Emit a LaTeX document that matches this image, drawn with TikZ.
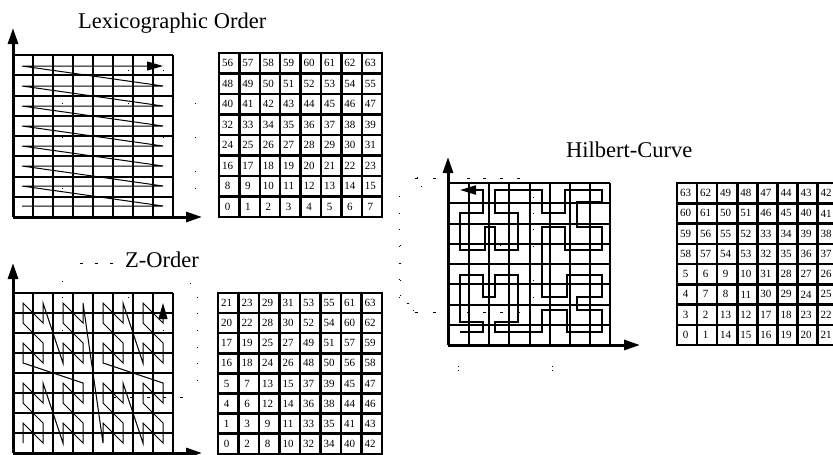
\documentclass[tikz,border=0pt]{standalone}
\usepackage{fontspec}
\setmainfont{Liberation Serif}
\usetikzlibrary{arrows.meta}

% table of numbered cells: name, x0, y0, dx, dy, rows (top to bottom)
\newcommand{\drawnumtable}[6]{%
  \foreach \vv in {0,...,8} {\draw[tabln] ({#2+#4*\vv},#3) -- ({#2+#4*\vv},{#3+8*#5});}
  \foreach \hh in {0,...,8} {\draw[tabln] (#2,{#3+#5*\hh}) -- ({#2+8*#4},{#3+#5*\hh});}
  \foreach \rowvals [count=\ri from 0] in {#6} {
    \foreach \cellv [count=\ci from 0] in \rowvals {
      \node[num] (#1-\ri-\ci) at ({#2+#4*\ci+8.5},{#3+#5*\ri+#5/2}) {\cellv};
    }
  }
}

\begin{document}
\begin{tikzpicture}[x=1pt,y=-1pt,
  gridln/.style={line width=2pt},
  axis/.style={line width=3pt,-{Triangle[length=16pt,width=10pt]}},
  tabln/.style={line width=2.5pt,line cap=rect},
  curve/.style={line width=1pt},
  hcurve/.style={line width=2pt},
  tip/.style={-{Triangle[length=16pt,width=9pt]}},
  num/.style={font=\fontsize{11}{11}\selectfont,inner sep=0pt},
  title/.style={font=\fontsize{22.5}{24}\selectfont,inner sep=0pt,anchor=base west},
  dotmark/.style={fill=black}]
\useasboundingbox (0,0) rectangle (833,455);
\clip (0,0) rectangle (833,455);

% ---------------- Lexicographic order ----------------
\node[title] (lextitle) at (78,28) {Lexicographic Order};
\foreach \i in {1,...,8} {\draw[gridln] ({13+20*\i},55) -- ({13+20*\i},217);}
\foreach \j in {0,...,7} {\draw[gridln] (13,{55+20.25*\j}) -- (173,{55+20.25*\j});}
\coordinate (lex-o) at (13,217);
\coordinate (lex-y) at (13,28);
\coordinate (lex-x) at (202,217);
\draw[axis] (lex-o) -- (lex-y);
\draw[axis] (lex-o) -- (lex-x);
\draw[curve,tip] (22,206)
  foreach \i in {1,...,7} { -- (163,{206-20*(\i-1)}) -- (22,{206-20*\i}) } -- (163,66);

\drawnumtable{lex}{219}{53}{20.4}{20.5}{%
  {56,57,58,59,60,61,62,63},{48,49,50,51,52,53,54,55},
  {40,41,42,43,44,45,46,47},{32,33,34,35,36,37,38,39},
  {24,25,26,27,28,29,30,31},{16,17,18,19,20,21,22,23},
  {8,9,10,11,12,13,14,15},{0,1,2,3,4,5,6,7}}

% ---------------- Z-order ----------------
\node[title] (ztitle) at (125,267) {Z-Order};
\foreach \i in {1,...,8} {\draw[gridln] ({13+20*\i},293) -- ({13+20*\i},453);}
\foreach \j in {0,...,7} {\draw[gridln] (13,{293+20*\j}) -- (173,{293+20*\j});}
\coordinate (z-o) at (13,453);
\coordinate (z-y) at (13,263);
\coordinate (z-x) at (202,453);
\draw[axis] (z-o) -- (z-y);
\draw[axis] (z-o) -- (z-x);
\draw[curve,tip] (23,443)
  foreach \a in {0,...,3} { foreach \b in {0,...,3} { foreach \d in {0,...,3} {
    -- ({23+20*(4*floor(\a/2)+2*floor(\b/2)+floor(\d/2))},
        {443-20*(4*mod(\a,2)+2*mod(\b,2)+mod(\d,2))}) } } };

\drawnumtable{zt}{218}{293}{20.5}{20.1}{%
  {21,23,29,31,53,55,61,63},{20,22,28,30,52,54,60,62},
  {17,19,25,27,49,51,57,59},{16,18,24,26,48,50,56,58},
  {5,7,13,15,37,39,45,47},{4,6,12,14,36,38,44,46},
  {1,3,9,11,33,35,41,43},{0,2,8,10,32,34,40,42}}

% ---------------- Hilbert curve ----------------
\node[title] (htitle) at (566,157) {Hilbert-Curve};
\foreach \i in {1,...,8} {\draw[gridln] ({449+20.15*\i},183) -- ({449+20.15*\i},345);}
\foreach \j in {0,...,7} {\draw[gridln] (448,{183+20.25*\j}) -- (610,{183+20.25*\j});}
\coordinate (h-o) at (448,345);
\coordinate (h-y) at (448,157);
\coordinate (h-x) at (640,345);
\draw[axis] (h-o) -- (h-y);
\draw[axis] (h-o) -- (h-x);
\draw[hcurve,tip] (460,332) -- (483,332) -- (483,322) -- (460,322) -- (460,275)
  -- (483,275) -- (483,297) -- (495,297) -- (495,275) -- (518,275) -- (518,322)
  -- (495,322) -- (495,332) -- (542,332) -- (542,310) -- (567,310) -- (567,332)
  -- (602,332) -- (602,310) -- (577,310) -- (577,297) -- (602,297) -- (602,275)
  -- (567,275) -- (567,297) -- (542,297) -- (542,227) -- (565,227) -- (565,250)
  -- (602,250) -- (602,227) -- (577,227) -- (577,202) -- (602,202) -- (602,190)
  -- (565,190) -- (565,213) -- (542,213) -- (542,190) -- (495,190) -- (495,213)
  -- (518,213) -- (518,250) -- (495,250) -- (495,227) -- (485,227) -- (485,250)
  -- (460,250) -- (460,213) -- (483,213) -- (483,190) -- (460,190);

\drawnumtable{ht}{677}{183}{20.1}{20.25}{%
  {63,62,49,48,47,44,43,42},{60,61,50,51,46,45,40,41},
  {59,56,55,52,33,34,39,38},{58,57,54,53,32,35,36,37},
  {5,6,9,10,31,28,27,26},{4,7,8,11,30,29,24,25},
  {3,2,13,12,17,18,23,22},{0,1,14,15,16,19,20,21}}

% ---------------- sparse dotted guide lines ----------------
\foreach \p in {(128,70),(163,70),(62,103),(128,103),(195,103),(62,137),(163,137),
  (195,137),(62,171),(195,171),(62,188),(195,188),(417,177),(399,196),(399,213),
  (399,229),(399,246),(399,263),(399,279),(399,297),(407,303),(421,186),
  (533,197),(533,213),(533,229),(533,246),(533,263),(533,280),(533,297),
  (466,213),(500,245),
  (62,281),(190,283),(197,297),(197,313),(197,330),(197,347),(197,363),(197,380),
  (62,297),(128,297),(62,330),(163,330),(400,245),(400,263),(400,280),(400,295),
  (408,303),(413,310),
  (458,366),(458,370),(552,366),(552,370)}
  {\fill[dotmark] \p rectangle ++(1.4,1.4);}
\foreach \p in {(415,178),(433,178),(467,178),(483,178),(500,178),(517,178),
  (415,312),(433,312),(467,312),(483,312),(500,312),(517,312),
  (80,263),(95,263),(110,263),(113,397),(130,397),(147,397),(163,397),(180,397)}
  {\fill[dotmark] \p rectangle ++(3,1.2);}
\end{tikzpicture}
\end{document}
